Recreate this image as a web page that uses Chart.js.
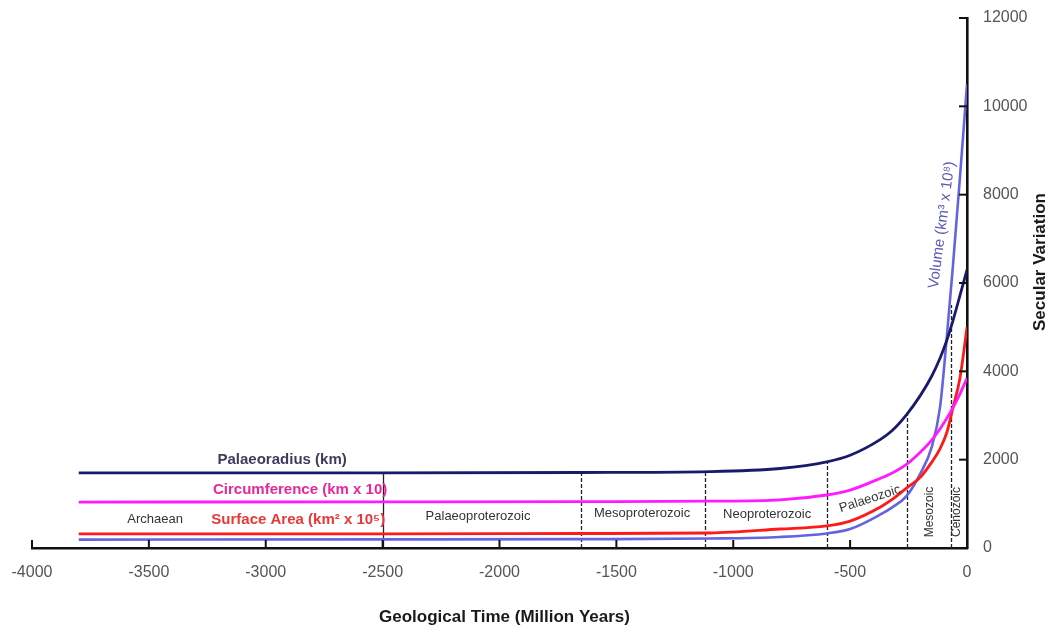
<!DOCTYPE html>
<html>
<head>
<meta charset="utf-8">
<script src="https://cdn.jsdelivr.net/npm/chart.js@4.4.1/dist/chart.umd.min.js"></script>
<style>
  html, body { margin: 0; padding: 0; background: #fff; }
  #wrap { width: 1047px; height: 627px; }
</style>
</head>
<body>
<div id="wrap"><canvas id="earthChart" width="1047" height="627"></canvas></div>
<script>
// ages in million years (negative = before present)
const ages = [-3800, -2500, -1650, -1100, -800, -600, -500, -370, -320, -260, -200, -150, -115, -86, -60, -30, 0];

// values
const palaeoradius  = [1700, 1700, 1710, 1730, 1800, 1950, 2100, 2460, 2660, 3010, 3450, 3900, 4300, 4710, 5150, 5720, 6300];
const circumference = [1040, 1045, 1050, 1060, 1090, 1200, 1310, 1580, 1700, 1890, 2170, 2450, 2700, 2940, 3180, 3490, 3850];
const surfaceArea   = [320, 322, 328, 340, 430, 500, 610, 930, 1100, 1350, 1600, 1950, 2250, 2620, 3180, 3850, 5000];
const volume        = [190, 195, 200, 215, 250, 330, 430, 760, 920, 1170, 1680, 2300, 3200, 4800, 6400, 8400, 10500];

// axis ticks
const timeTicks = [-4000, -3500, -3000, -2500, -2000, -1500, -1000, -500, 0];
const variationTicks = [0, 2000, 4000, 6000, 8000, 10000, 12000];

// period boundaries (age, and value where the line stops)
const boundaryAges = [-2500, -1650, -1120, -600, -255, -70];
const boundaryTops = [1700, 1710, 1730, 1950, 3050, 5500];

// era names and where they sit (age, value, angle)
const eraNames  = ['Archaean', 'Palaeoproterozoic', 'Mesoproterozoic', 'Neoproterozoic', 'Palaeozoic', 'Mesozoic', 'Cenozoic'];
const eraAges   = [-3473, -2092, -1390, -855, -415, -158, -43];
const eraLevels = [657, 725, 792, 770, 1110, 815, 815];
const eraAngles = [0, 0, 0, 0, -18, -90, -90];

// curve labels
const seriesNames  = ['Palaeoradius (km)', 'Circumference (km x 10)', 'Surface Area (km\u00b2 x 10\u2075)', 'Volume (km\u00b3 x 10\u2078)'];
const seriesColors = ['#1a1a6a', '#ff1aff', '#ff1a1a', '#6464e0'];
const labelColors  = ['#3c3c5c', '#e8289a', '#e83838', '#5a5ab4'];
const labelAges    = [-2930, -2853, -2861, -107];
const labelLevels  = [1990, 1313, 634, 7313];
const labelAngles  = [0, 0, 0, -82.5];

const FONT = '"Liberation Sans", Arial, sans-serif';

function toPoints(values) {
    return ages.map(function(a, i) { return { x: a, y: values[i] }; });
}

const seriesValues = [palaeoradius, circumference, surfaceArea, volume];
const datasets = seriesValues.map(function(vals, i) {
    return {
        label: seriesNames[i],
        data: toPoints(vals),
        borderColor: seriesColors[i],
        borderWidth: i === 3 ? 2.6 : 2.8,
        pointRadius: 0,
        fill: false,
        cubicInterpolationMode: 'monotone'
    };
});

// boundaries, tick marks and text drawn with the chart's scales
const overlayPlugin = {
    id: 'overlay',
    beforeDatasetsDraw(chart) {
        const ctx = chart.ctx;
        const xs = chart.scales.x, ys = chart.scales.y;
        ctx.save();
        ctx.strokeStyle = '#222';
        ctx.lineWidth = 1.3;
        boundaryAges.forEach(function(a, i) {
            ctx.setLineDash(i === 0 ? [] : [4, 2]);
            const px = Math.round(xs.getPixelForValue(a)) + 0.5;
            ctx.beginPath();
            ctx.moveTo(px, ys.getPixelForValue(0));
            ctx.lineTo(px, ys.getPixelForValue(boundaryTops[i]));
            ctx.stroke();
        });
        ctx.restore();
    },
    afterDraw(chart) {
        const ctx = chart.ctx;
        const xs = chart.scales.x, ys = chart.scales.y;
        const area = chart.chartArea;
        ctx.save();

        // tick marks point into the plot
        ctx.strokeStyle = '#111';
        ctx.lineWidth = 2;
        timeTicks.forEach(function(t) {
            const px = xs.getPixelForValue(t);
            ctx.beginPath();
            ctx.moveTo(px, area.bottom);
            ctx.lineTo(px, area.bottom - 8);
            ctx.stroke();
        });
        variationTicks.forEach(function(v) {
            const py = ys.getPixelForValue(v);
            ctx.beginPath();
            ctx.moveTo(area.right, py);
            ctx.lineTo(area.right - 8, py);
            ctx.stroke();
        });

        function drawText(text, x, y, angle, font, color) {
            ctx.save();
            ctx.translate(x, y);
            ctx.rotate(angle * Math.PI / 180);
            ctx.font = font;
            ctx.fillStyle = color;
            ctx.textAlign = 'center';
            ctx.textBaseline = 'middle';
            ctx.fillText(text, 0, 0);
            ctx.restore();
        }

        eraNames.forEach(function(name, i) {
            const sz = eraAngles[i] === -90 ? 12 : 13;
            drawText(name, xs.getPixelForValue(eraAges[i]), ys.getPixelForValue(eraLevels[i]),
                eraAngles[i], sz + 'px ' + FONT, '#333');
        });

        seriesNames.forEach(function(name, i) {
            const font = i === 3 ? '15px ' + FONT : 'bold 15px ' + FONT;
            drawText(name, xs.getPixelForValue(labelAges[i]), ys.getPixelForValue(labelLevels[i]),
                labelAngles[i], font, labelColors[i]);
        });

        // axis titles
        drawText('Geological Time (Million Years)', (area.left + area.right) / 2 + 5, area.bottom + 69,
            0, 'bold 17px ' + FONT, '#1a1a1a');
        drawText('Secular Variation', area.right + 73, 262, -90, 'bold 17px ' + FONT, '#1a1a1a');

        ctx.restore();
    }
};

const ctx = document.getElementById('earthChart').getContext('2d');
const earthChart = new Chart(ctx, {
    type: 'line',
    data: { datasets: datasets },
    options: {
        responsive: false,
        animation: false,
        devicePixelRatio: 1,
        layout: { padding: { top: 18, left: 32, right: 0, bottom: 0 } },
        plugins: {
            legend: { display: false },
            tooltip: { enabled: false }
        },
        scales: {
            x: {
                type: 'linear',
                min: -4000,
                max: 0,
                afterBuildTicks: function(scale) {
                    scale.ticks = timeTicks.map(function(v) { return { value: v }; });
                },
                afterFit: function(scale) {
                    scale.height = 79;
                    scale.paddingLeft = 0;
                    scale.paddingRight = 0;
                },
                grid: { display: false, drawTicks: false },
                border: { display: true, color: '#111', width: 2.6 },
                ticks: {
                    padding: 15,
                    color: '#555',
                    font: { family: FONT, size: 16 },
                    maxRotation: 0,
                    autoSkip: false,
                    callback: function(v) { return String(v); }
                }
            },
            y: {
                type: 'linear',
                position: 'right',
                min: 0,
                max: 12000,
                afterBuildTicks: function(scale) {
                    scale.ticks = variationTicks.map(function(v) { return { value: v }; });
                },
                afterFit: function(scale) {
                    scale.width = 80;
                    scale.paddingTop = 0;
                    scale.paddingBottom = 0;
                },
                grid: { display: false, drawTicks: false },
                border: { display: true, color: '#111', width: 2.6 },
                ticks: {
                    padding: 16,
                    color: '#555',
                    font: { family: FONT, size: 16 },
                    callback: function(v) { return String(v); }
                }
            }
        }
    },
    plugins: [overlayPlugin]
});
</script>
</body>
</html>
